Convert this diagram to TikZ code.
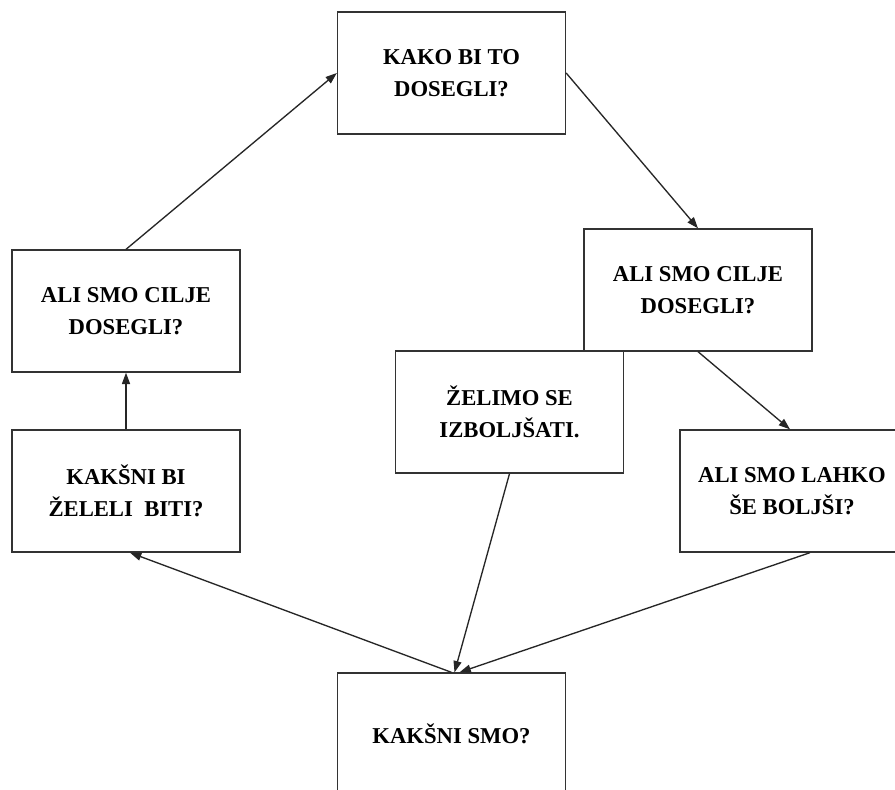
\documentclass[tikz,border=0pt]{standalone}
\usepackage{fontspec}
\setmainfont{Liberation Serif}
\usetikzlibrary{arrows.meta,calc}
\begin{document}
\begin{tikzpicture}[x=0.75pt,y=-0.75pt,
  box/.style={draw=black!80,line width=1pt,minimum width=171pt,minimum height=91.5pt,inner sep=0pt,align=center,
    font=\bfseries\fontsize{17pt}{24pt}\selectfont},
  conn/.style={draw=black!85,line width=1pt,-{Triangle[length=8.5pt,width=6pt]}},
  plain/.style={draw=black!85,line width=1pt}]
\useasboundingbox (0,0) rectangle (895,789);
\clip (0,0) rectangle (895,789);
\fill[white] (0,0) rectangle (895,789);
\node[box] (top) at (451.5,73) {KAKO BI TO\\DOSEGLI?};
\node[box] (l1) at (126,311) {ALI SMO CILJE\\DOSEGLI?};
\node[box] (l2) at (126,491) {KAKŠNI BI\\ŽELELI~ BITI?};
\node[box] (r1) at (698,290) {ALI SMO CILJE\\DOSEGLI?};
\node[box] (z) at (509.5,412) {ŽELIMO SE\\IZBOLJŠATI.};
\node[box,minimum width=180pt] (r2) at (800,491) {\hspace*{-12pt}ALI SMO LAHKO\\\hspace*{-12pt}ŠE BOLJŠI?};
\node[box] (bot) at (451.5,734) {KAKŠNI SMO?};
\coordinate (r2in) at ($(r2.north)+(-10,0)$);
\coordinate (r2out) at ($(r2.south)+(10,0)$);
\coordinate (l2in) at ($(l2.south)+(4,0)$);
\coordinate (botinA) at ($(bot.north)+(3,0)$);
\coordinate (botinB) at ($(bot.north)+(8,0)$);
\draw[conn] (l1.north) -- (top.west);
\draw[conn] (top.east) -- (r1.north);
\draw[conn] (r1.south) -- (r2in);
\draw[conn] (l2.north) -- (l1.south);
\draw[conn] (bot.north) -- (l2in);
\draw[conn] (z.south) -- (botinA);
\draw[conn] (r2out) -- (botinB);
\end{tikzpicture}
\end{document}
